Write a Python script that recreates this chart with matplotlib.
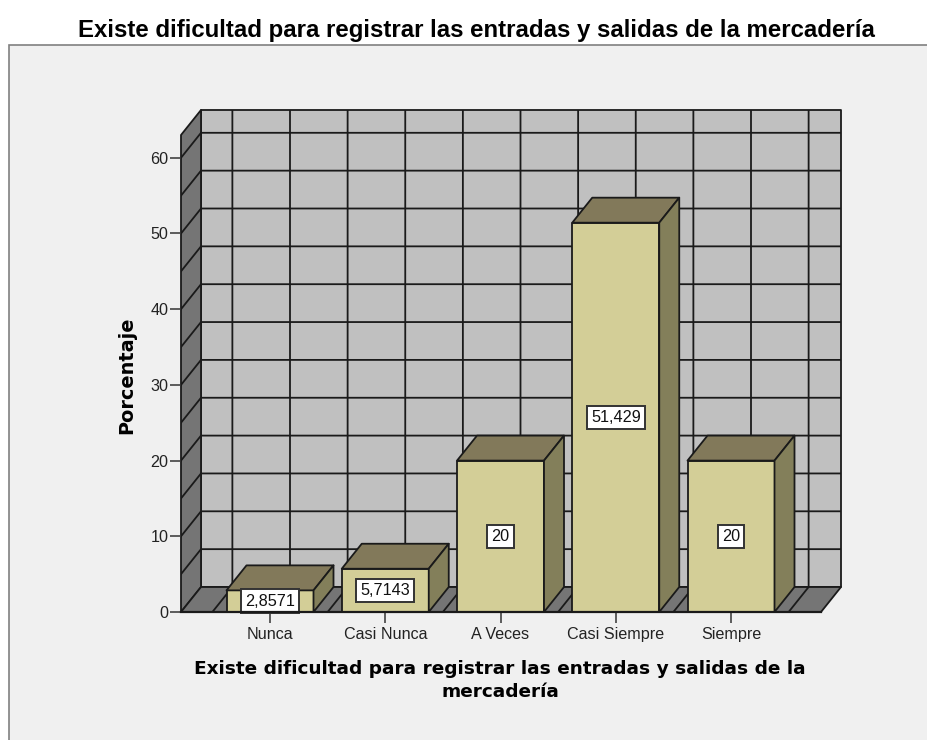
import numpy as np
import matplotlib
matplotlib.use('Agg')
import matplotlib.pyplot as plt
from matplotlib.patches import Polygon, Rectangle

categories = ['Nunca', 'Casi Nunca', 'A Veces', 'Casi Siempre', 'Siempre']
porcentaje = [2.8571, 5.7143, 20, 51.429, 20]
etiquetas = ['2,8571', '5,7143', '20', '51,429', '20']
yticks = [0, 10, 20, 30, 40, 50, 60]
titulo = 'Existe dificultad para registrar las entradas y salidas de la mercadería'
xlabel = 'Existe dificultad para registrar las entradas y salidas de la\nmercadería'

W, H = 928, 740
plt.rcParams['font.family'] = ['Liberation Sans', 'DejaVu Sans']

# scales of the plot, in pixels
PX_CAT = 115.25
PX_PCT = 7.57
DEPTH_X = 20 / PX_CAT
DEPTH_Y = 25 / PX_PCT
BAR_W = 87 / PX_CAT

FRONT = '#d3ce97'
TOP = '#82795a'
SIDE = '#837f5a'
WALL = '#c0c0c0'
DARK = '#757575'
LINE = '#1a1a1a'
LW = 1.3

fig = plt.figure(figsize=(W / 100, H / 100), dpi=100, facecolor='white')
fig.patches.append(Rectangle((9 / W, -0.1), 1.1, (H - 45) / H + 0.1, transform=fig.transFigure,
                             facecolor='#f0f0f0', edgecolor='#808080', linewidth=1.2, zorder=-1))
fig.text(476.5 / W, 1 - 30 / H, titulo, ha='center', va='center', fontsize=17.3, fontweight='bold')

ax = fig.add_axes([181 / W, (H - 612) / H, 660 / W, 502 / H])
ax.set_xlim((181 - 270) / PX_CAT, (841 - 270) / PX_CAT)
ax.set_ylim(0, 502 / PX_PCT)
ax.patch.set_visible(False)
for s in ax.spines.values():
    s.set_visible(False)

x0 = ax.get_xlim()[0]
x1 = ax.get_xlim()[1] - DEPTH_X
ytop = ax.get_ylim()[1] - DEPTH_Y


def poly(pts, color, z=1):
    ax.add_patch(Polygon(pts, closed=True, facecolor=color, edgecolor=LINE, linewidth=LW,
                         zorder=z, clip_on=False, joinstyle='round'))


# walls and floor
poly([(x0 + DEPTH_X, DEPTH_Y), (x1 + DEPTH_X, DEPTH_Y), (x1 + DEPTH_X, ytop + DEPTH_Y),
      (x0 + DEPTH_X, ytop + DEPTH_Y)], WALL)
poly([(x0, 0), (x0 + DEPTH_X, DEPTH_Y), (x0 + DEPTH_X, ytop + DEPTH_Y), (x0, ytop)], DARK)
poly([(x0, 0), (x1, 0), (x1 + DEPTH_X, DEPTH_Y), (x0 + DEPTH_X, DEPTH_Y)], DARK)

# grid on the walls
for v in np.arange(5, ytop, 5):
    ax.plot([x0, x0 + DEPTH_X, x1 + DEPTH_X], [v, v + DEPTH_Y, v + DEPTH_Y], color=LINE, lw=LW, zorder=2)
for c in np.arange(-0.5, 5, 0.5):
    ax.plot([c, c + DEPTH_X, c + DEPTH_X], [0, DEPTH_Y, ytop + DEPTH_Y], color=LINE, lw=LW, zorder=2)

# bars
for i, v in enumerate(porcentaje):
    l = i - BAR_W / 2
    r = i + BAR_W / 2
    poly([(l, 0), (r, 0), (r, v), (l, v)], FRONT, 3)
    poly([(l, v), (r, v), (r + DEPTH_X, v + DEPTH_Y), (l + DEPTH_X, v + DEPTH_Y)], TOP, 3)
    poly([(r, 0), (r + DEPTH_X, DEPTH_Y), (r + DEPTH_X, v + DEPTH_Y), (r, v)], SIDE, 3)
    ax.text(i, v / 2, etiquetas[i], ha='center', va='center', fontsize=11.7, color='#111111', zorder=4,
            bbox=dict(boxstyle='square,pad=0.26', facecolor='white', edgecolor='#333333', linewidth=1.4))

ax.plot([x0, x1], [0, 0], color=LINE, lw=1.6, zorder=5, clip_on=False)

ax.set_xticks(range(len(categories)))
ax.set_xticklabels(categories)
ax.set_yticks(yticks)
ax.tick_params(axis='both', length=8, width=1.1, color='#333333', labelsize=11.6, labelcolor='#222222', pad=1)
ax.tick_params(axis='x', pad=2.5)

ax.set_xlabel(xlabel, fontsize=13.3, fontweight='bold', family='DejaVu Sans', linespacing=1.38)
ax.xaxis.set_label_coords((500 - 181) / 660, -(660 - 612) / 502, transform=ax.transAxes)
ax.xaxis.label.set_va('top')
ax.set_ylabel('Porcentaje', fontsize=13.9, fontweight='bold', family='DejaVu Sans')
ax.yaxis.set_label_coords((136 - 181) / 660, (612 - 375) / 502)

plt.savefig('out.png', dpi=100)
